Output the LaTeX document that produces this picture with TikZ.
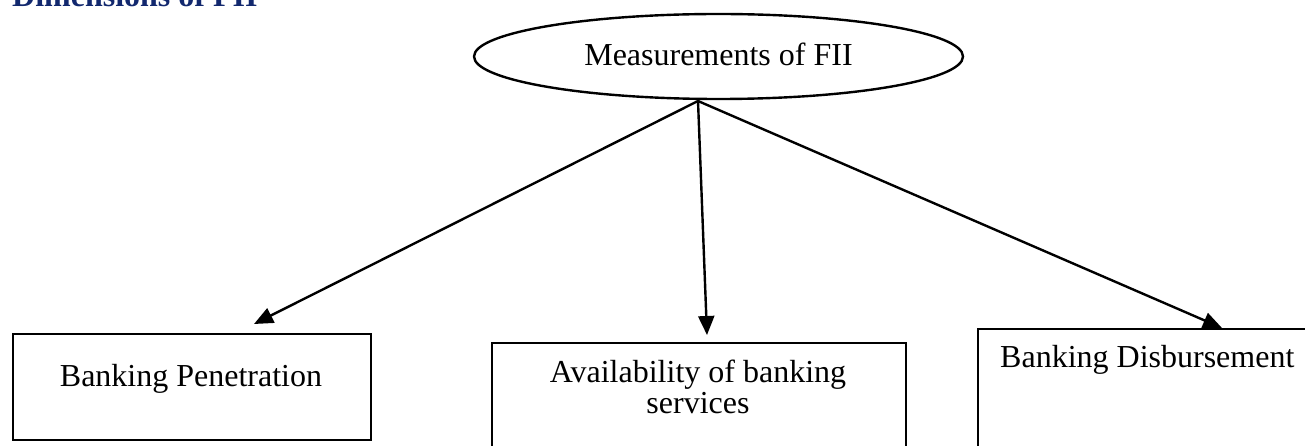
\documentclass[tikz,border=0pt]{standalone}
\usepackage{fontspec}
\setmainfont{Liberation Serif}
\usetikzlibrary{arrows.meta,shapes.geometric}
\definecolor{titleblue}{RGB}{18,40,110}
\tikzset{
  lw/.style={line width=2.4pt},
  boxshape/.style={draw, lw, rectangle, minimum width=#1, anchor=north west, inner sep=0pt},
  txt/.style={font=\fontsize{32}{36}\selectfont, inner sep=0pt, align=center},
  conn/.style={lw, -{Triangle[length=19pt,width=16pt]}}
}
\begin{document}
\begin{tikzpicture}[x=1pt,y=-1pt]
\useasboundingbox (0,0) rectangle (1305,446);
% title (cut at top, as in the reference)
\node[anchor=base west, inner sep=0pt, text=titleblue, font=\fontsize{32}{36}\selectfont\bfseries] (title) at (12,7) {Dimensions of FII};
% top ellipse
\node[draw, lw, ellipse, minimum width=489pt, minimum height=85pt, inner sep=0pt] (m) at (718.5,56.5) {};
\node[txt, anchor=base] (mt) at (718.5,66) {Measurements of FII};
% boxes
\node[boxshape=358pt, minimum height=106pt] (b1) at (12,333) {};
\node[txt, anchor=base] (b1t) at (191,386) {Banking Penetration};
\node[boxshape=414pt, minimum height=130pt] (b2) at (491,342) {};
\node[txt, anchor=base] (b2t) at (698,382) {Availability of banking};
\node[txt, anchor=base] (b2u) at (698,413) {services};
\node[boxshape=360pt, minimum height=140pt] (b3) at (977,328) {};
\node[txt, anchor=base west] (b3t) at (1000,367) {Banking Disbursement};
% connectors
\coordinate (src) at (698,101);
\coordinate (t1) at (254,324);
\coordinate (t2) at (707,335);
\coordinate (t3) at (1222,328);
\draw[lw] (src) -- (src |- m.south);
\draw[conn] (src) -- (t1);
\draw[conn] (src) -- (t2);
\draw[conn] (src) -- (t3);
\end{tikzpicture}
\end{document}
